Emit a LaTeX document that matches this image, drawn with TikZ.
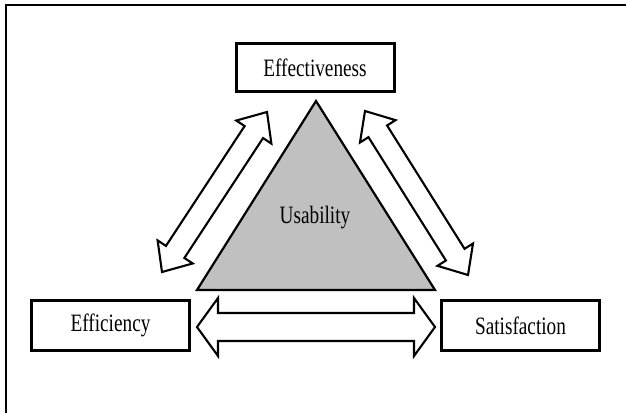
\documentclass[tikz,border=0pt]{standalone}
\usepackage{fontspec}
\setmainfont[FakeStretch=0.77]{Liberation Serif}
\usepackage{tikz}
\usetikzlibrary{calc,positioning}

\definecolor{usegray}{RGB}{192,192,192}

% hollow double arrow between two points: from, to, shaft half width, head half width, head length
\newcommand{\fatarrow}[5]{%
  \draw[fatarr] let \p1=($(#2)-(#1)$), \n1={atan2(\y1,\x1)}, \n2={veclen(\x1,\y1)} in
    [shift={(#1)},rotate=\n1]
    (0pt,0pt) -- (#5pt,#4pt) -- (#5pt,#3pt) -- ({\n2-#5pt},#3pt) -- ({\n2-#5pt},#4pt)
    -- (\n2,0pt) -- ({\n2-#5pt},-#4pt) -- ({\n2-#5pt},-#3pt) -- (#5pt,-#3pt)
    -- (#5pt,-#4pt) -- cycle;}

\begin{document}
\begin{tikzpicture}[x=1pt,y=-1pt]
      \tikzstyle{box}=[draw,line width=3pt,minimum width=158pt,minimum height=48pt,inner sep=0pt,font=\fontsize{25}{30}\selectfont]
      \tikzstyle{fatarr}=[draw,fill=white,line width=2.1pt,line join=miter]
      \useasboundingbox (0,0) rectangle (626,413);
      % frame
      \draw[line width=2pt] (626,5) -- (6,5) -- (6,413);
      % usability triangle
      \coordinate (top) at (316,101);
      \coordinate (bl) at (197,290);
      \coordinate (br) at (435,290);
      \draw[fill=usegray,line width=2.2pt,line join=miter] (top) -- (bl) -- (br) -- cycle;
      \node[anchor=base,font=\fontsize{25}{30}\selectfont] (use) at (315,223) {Usability};
      % the three attributes
      \node[box] (eff) at (315,67.5) {Effectiveness};
      \node[box,minimum height=50pt] (effi) at (110.5,325.5) {Efficiency};
      \node[box,minimum height=50pt] (sat) at (520.5,325.5) {Satisfaction};
      % arrows
      \coordinate (l1) at (162,272);
      \coordinate (l2) at (267,112);
      \coordinate (r1) at (365,111);
      \coordinate (r2) at (468,275);
      \coordinate (b1) at (197,327);
      \coordinate (b2) at (435,327);
      \fatarrow{l1}{l2}{11}{21}{24}
      \fatarrow{r1}{r2}{11}{21}{24}
      \fatarrow{b1}{b2}{14}{29}{21}
    \end{tikzpicture}
\end{document}
